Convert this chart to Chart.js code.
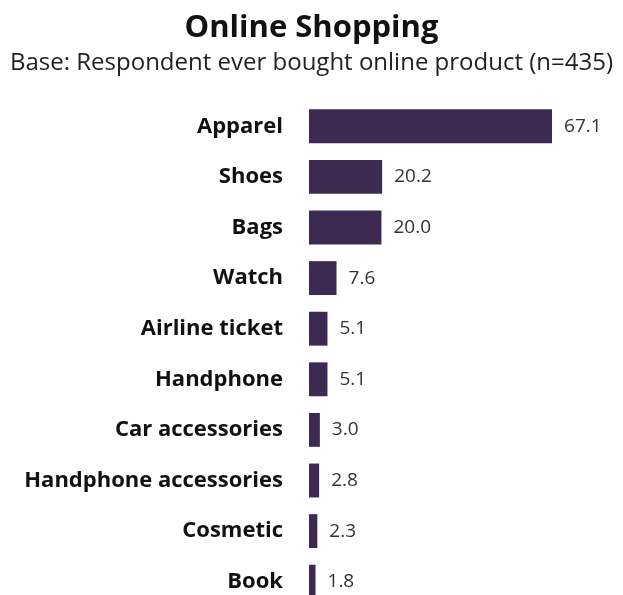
<!DOCTYPE html>
<html>
<head>
<meta charset="utf-8">
<script src="https://cdn.jsdelivr.net/npm/chart.js@4/dist/chart.umd.min.js"></script>
<style>
    html, body { margin: 0; padding: 0; background: #fff; overflow: hidden; }
    #wrap { width: 623px; height: 615px; }
</style>
</head>
<body>
<!-- canvas is a bit taller than the window: the last bar is cut off in the reference -->
<div id="wrap"><canvas id="shop-chart" width="623" height="615"></canvas></div>
<script>
// Data
const categories = [
    'Apparel', 'Shoes', 'Bags', 'Watch', 'Airline ticket',
    'Handphone', 'Car accessories', 'Handphone accessories', 'Cosmetic', 'Book'
];
const shares = [67.1, 20.2, 20.0, 7.6, 5.1, 5.1, 3.0, 2.8, 2.3, 1.8];

const BAR_COLOR = '#3d2a52';
const FONT = "'Open Sans', sans-serif";

// value labels at the end of each bar
const valueLabels = {
    id: 'valueLabels',
    afterDatasetsDraw(chart) {
        const ctx = chart.ctx;
        const meta = chart.getDatasetMeta(0);
        ctx.save();
        ctx.font = '19px ' + FONT;
        ctx.fillStyle = '#333';
        ctx.textAlign = 'left';
        ctx.textBaseline = 'middle';
        meta.data.forEach((bar, i) => {
            ctx.fillText(shares[i].toFixed(1), bar.x + 12, bar.y);
        });
        ctx.restore();
    }
};

new Chart(document.getElementById('shop-chart'), {
    type: 'bar',
    data: {
        labels: categories,
        datasets: [{
            data: shares,
            backgroundColor: BAR_COLOR,
            borderWidth: 0,
            barPercentage: 0.67,
            categoryPercentage: 1
        }]
    },
    options: {
        indexAxis: 'y',
        responsive: false,
        animation: false,
        layout: { padding: { left: 0, right: 0, top: 0, bottom: 8 } },
        plugins: {
            legend: { display: false },
            tooltip: { enabled: false },
            title: {
                display: true,
                text: 'Online Shopping',
                color: '#111',
                font: { family: FONT, size: 31, weight: 'bold' },
                padding: { top: 10, bottom: 2 }
            },
            subtitle: {
                display: true,
                text: 'Base: Respondent ever bought online product (n=435)',
                color: '#222',
                font: { family: FONT, size: 24 },
                padding: { top: 0, bottom: 23 }
            }
        },
        scales: {
            // right end of the scale leaves room for the 67.1 label
            x: { display: false, min: 0, max: 86.7 },
            y: {
                grid: { display: false, drawTicks: false },
                border: { display: false },
                afterFit: s => {
                    s.width = 309;
                    // tick padding should only push labels sideways
                    s.paddingTop = 0;
                    s.paddingBottom = 0;
                },
                ticks: {
                    padding: 26,
                    color: '#111',
                    font: { family: FONT, size: 22, weight: 'bold' }
                }
            }
        }
    },
    plugins: [valueLabels]
});
</script>
</body>
</html>
